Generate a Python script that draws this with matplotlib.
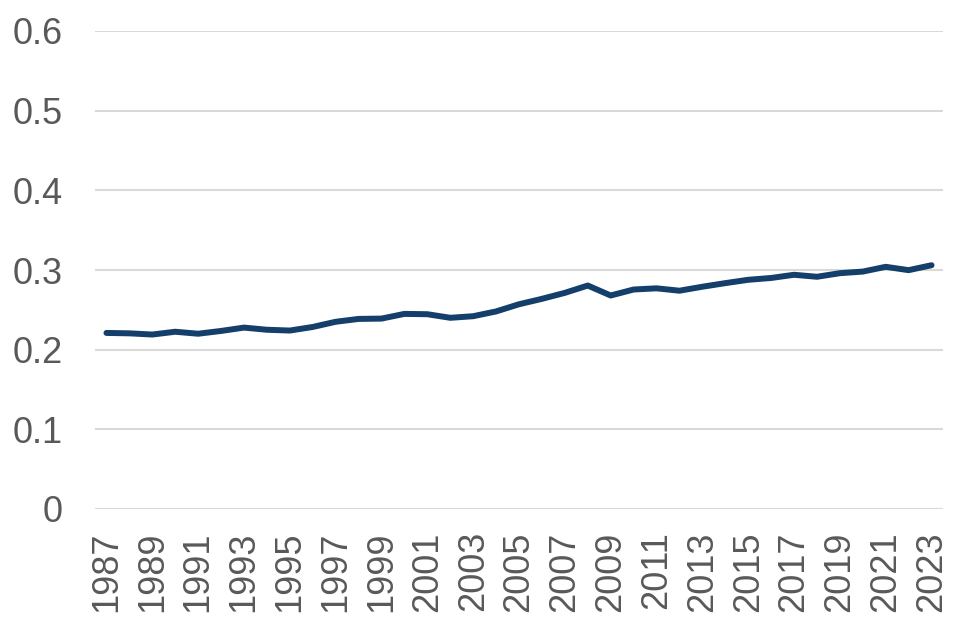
import matplotlib.pyplot as plt
import numpy as np

years = list(range(1987, 2024))
values = [0.221, 0.2205, 0.219, 0.2225, 0.220, 0.2235, 0.2277, 0.225, 0.224, 0.2285,
          0.235, 0.2386, 0.239, 0.2449, 0.2445, 0.240, 0.242, 0.248, 0.257, 0.2638,
          0.2713, 0.2805, 0.268, 0.2755, 0.277, 0.274, 0.279, 0.2835, 0.2877, 0.290,
          0.294, 0.2915, 0.296, 0.298, 0.304, 0.2998, 0.306]
yticks = [0, 0.1, 0.2, 0.3, 0.4, 0.5, 0.6]
ytick_labels = ['0', '0.1', '0.2', '0.3', '0.4', '0.5', '0.6']

plt.rcParams['font.family'] = ['Liberation Sans', 'DejaVu Sans']

fig = plt.figure(figsize=(9.6, 6.28), dpi=100)
ax = fig.add_axes([95 / 960, 119 / 628, 848 / 960, 478 / 628])

ax.plot(years, values, color='#133F6A', linewidth=4.3, solid_capstyle='round',
        solid_joinstyle='round', zorder=3)

ax.set_xlim(1986.5, 2023.5)
ax.set_ylim(0, 0.6)
ax.set_yticks(yticks)
ax.set_yticklabels(ytick_labels)
ax.set_xticks(years[::2])
ax.set_xticklabels([str(y) for y in years[::2]], rotation=90)

ax.grid(axis='y', color='#D9D9D9', linewidth=1.5)
ax.set_axisbelow(True)
for s in ax.spines.values():
    s.set_visible(False)
ax.tick_params(axis='both', length=0, labelsize=26, labelcolor='#595959')
ax.tick_params(axis='y', pad=23)
ax.tick_params(axis='x', pad=16)

fig.savefig('out.png', dpi=100)
